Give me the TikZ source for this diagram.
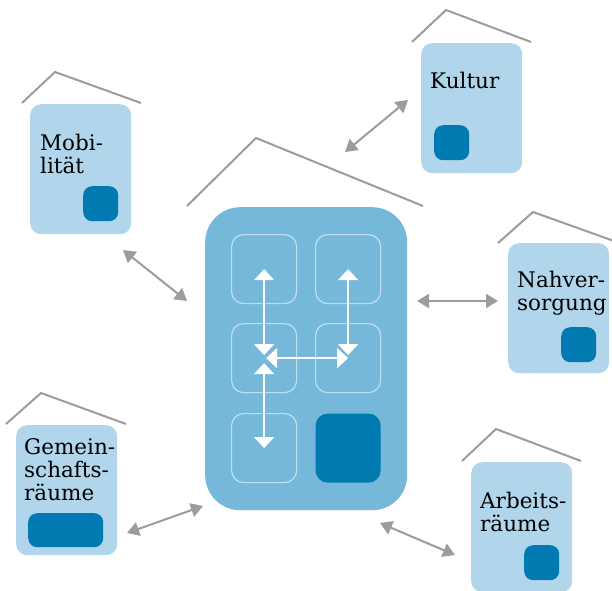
\documentclass[tikz,border=0pt]{standalone}
\usepackage{fontspec}
\setmainfont{DejaVu Serif}
\usepackage{tikz}
\usetikzlibrary{arrows.meta}
\definecolor{hubblue}{HTML}{76B8DA}
\definecolor{paleblue}{HTML}{B1D6EB}
\definecolor{deepblue}{HTML}{007AB0}
\definecolor{roofgrey}{HTML}{9C9C9C}
\tikzstyle{hubbox}=[rectangle,anchor=north west,inner sep=0,minimum width=202,minimum height=303,rounded corners=35,fill=hubblue]
\tikzstyle{tile}=[rectangle,anchor=north west,inner sep=0,minimum width=65,minimum height=69,rounded corners=12,draw=white,draw opacity=0.55,line width=1.2]
\tikzstyle{darktile}=[tile,draw=none,fill=deepblue]
\tikzstyle{place}=[rectangle,anchor=north west,inner sep=0,minimum width=101,minimum height=130,rounded corners=11,fill=paleblue]
\tikzstyle{spot}=[rectangle,anchor=north west,inner sep=0,minimum width=35,minimum height=35,rounded corners=9,fill=deepblue]
\tikzstyle{caption}=[anchor=north west,inner sep=0,align=left,font=\fontsize{21.5}{23}\selectfont]
\tikzstyle{roof}=[draw=roofgrey,line width=2]
\tikzstyle{link}=[draw=roofgrey,line width=2,{Triangle[width=14,length=12]}-{Triangle[width=14,length=12]}]
\tikzstyle{move}=[draw=white,line width=1.6,{Triangle[width=20,length=11]}-{Triangle[width=20,length=11]}]

\begin{document}
\begin{tikzpicture}[x=1pt,y=-1pt]
\useasboundingbox (0,0) rectangle (612,590);
\clip (0,0) rectangle (612,590);

\draw[roof](187,206)--(256,138)--(423,206);
\node(hub)[hubbox] at (205,207){};
\node(t11)[tile] at (231,234){};
\node(t12)[tile] at (315,234){};
\node(t21)[tile] at (231,323){};
\node(t22)[tile] at (315,323){};
\node(t31)[tile] at (231,413){};
\node(t32)[darktile] at (315,413){};
\draw[move](t11.center)--([yshift=3]t21.center);
\draw[move](t12.center)--([yshift=3]t22.center);
\draw[move]([xshift=2]t21.center)--(t22.center);
\draw[move]([yshift=-5]t21.center)--(t31.center);

\draw[roof](22,103)--(55,72)--(141,103);
\node(mob)[place] at (30,104){};
\node(mobspot)[spot] at (83,186){};
\node(mobtxt)[caption] at (40,133.7){Mobi-\\lität};

\draw[roof](412,42)--(446,10)--(531,42);
\node(kul)[place] at (421,43){};
\node(kulspot)[spot] at (434,125){};
\node(kultxt)[caption] at (430,71.7){Kultur};

\draw[roof](498,243)--(533,212)--(653,255);
\node(nah)[place] at (508,243){};
\node(nahspot)[spot] at (561,327){};
\node(nahtxt)[caption] at (517,270.7){Nahver-\\sorgung};

\draw[roof](6,424)--(41,393)--(126,424);
\node(gem)[place] at (16,425){};
\node(gemspot)[spot,minimum width=75,minimum height=34] at (28,513){};
\node(gemtxt)[caption] at (24,438.7){Gemein-\\schafts-\\räume};

\draw[roof](462,461)--(496,429)--(581,461);
\node(arb)[place] at (471,462){};
\node(arbspot)[spot] at (524,545){};
\node(arbtxt)[caption] at (480,491.7){Arbeits-\\räume};

\coordinate(kulA) at (345,152);
\coordinate(kulB) at (408,100);
\coordinate(mobA) at (123,250);
\coordinate(mobB) at (187,301);
\coordinate(nahA) at (417,301);
\coordinate(nahB) at (498,301);
\coordinate(gemA) at (127,533);
\coordinate(gemB) at (203,506);
\coordinate(arbA) at (380,523);
\coordinate(arbB) at (455,555);
\draw[link](kulA)--(kulB);
\draw[link](mobA)--(mobB);
\draw[link](nahA)--(nahB);
\draw[link](gemA)--(gemB);
\draw[link](arbA)--(arbB);
\end{tikzpicture}
\end{document}
